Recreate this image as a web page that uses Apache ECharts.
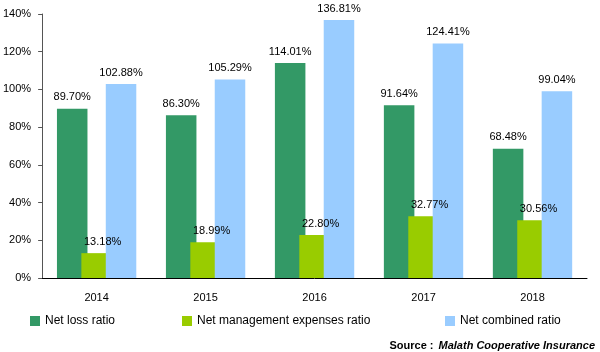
<!DOCTYPE html>
<html>
<head>
<meta charset="utf-8">
<script src="https://cdn.jsdelivr.net/npm/echarts@6/dist/echarts.min.js"></script>
<style>
  html, body { margin: 0; padding: 0; background: #fff; }
  #box { width: 600px; height: 352px; }
</style>
</head>
<body>
<div id="box"></div>
<script>
  const years = ['2014', '2015', '2016', '2017', '2018']
  const lossRatio = [89.70, 86.30, 114.01, 91.64, 68.48]
  const mgmtRatio = [13.18, 18.99, 22.80, 32.77, 30.56]
  const combinedRatio = [102.88, 105.29, 136.81, 124.41, 99.04]
  const names = ['Net loss ratio', 'Net management expenses ratio', 'Net combined ratio']
  const colors = ['#339966', '#99cc00', '#99ccff']

  const font = 'Liberation Sans, Arial, sans-serif'
  const myChart = echarts.init(document.getElementById('box'))

  function barSeries(i, data, labelOffset) {
    return {
      name: names[i],
      type: 'bar',
      data: data,
      barWidth: '28%',
      barGap: '-20%',
      itemStyle: { color: colors[i] },
      label: {
        show: true,
        position: 'top',
        distance: 6,
        offset: labelOffset,
        color: '#000',
        fontSize: 11,
        fontFamily: font,
        formatter: (p) => p.value.toFixed(2) + '%'
      }
    }
  }

  function legendAt(left, name) {
    return {
      left: left,
      top: 310,
      data: [name],
      itemWidth: 10,
      itemHeight: 10,
      itemGap: 4,
      icon: 'rect',
      textStyle: { fontSize: 12, fontFamily: font, color: '#000' }
    }
  }

  let option = {
    animation: false,
    grid: { left: 39, right: 13, top: 14, bottom: 74 },
    legend: [
      legendAt(25, names[0]),
      legendAt(177, names[1]),
      legendAt(440, names[2])
    ],
    title: {
      right: 0,
      top: 332,
      text: '{b|Source :} {i|Malath Cooperative Insurance}',
      textStyle: {
        rich: {
          b: { fontSize: 11, fontWeight: 'bold', fontFamily: font, color: '#000' },
          i: { fontSize: 11, fontStyle: 'italic', fontFamily: font, color: '#000' }
        }
      }
    },
    xAxis: {
      type: 'category',
      data: years,
      axisLine: { lineStyle: { color: '#000', width: 1 } },
      axisTick: { show: false },
      axisLabel: { margin: 14, fontSize: 11, fontFamily: font, color: '#000' }
    },
    yAxis: {
      type: 'value',
      min: 0,
      max: 140,
      interval: 20,
      splitLine: { show: false },
      axisLine: { show: true, lineStyle: { color: '#555', width: 1 } },
      axisTick: { show: true, length: 4, lineStyle: { color: '#555' } },
      axisLabel: { margin: 11, fontSize: 11, fontFamily: font, color: '#000', formatter: '{value}%' }
    },
    series: [
      barSeries(0, lossRatio, [0, 0]),
      barSeries(1, mgmtRatio, [6, 0]),
      barSeries(2, combinedRatio, [0, 0])
    ]
  }
  myChart.setOption(option)
</script>
</body>
</html>
